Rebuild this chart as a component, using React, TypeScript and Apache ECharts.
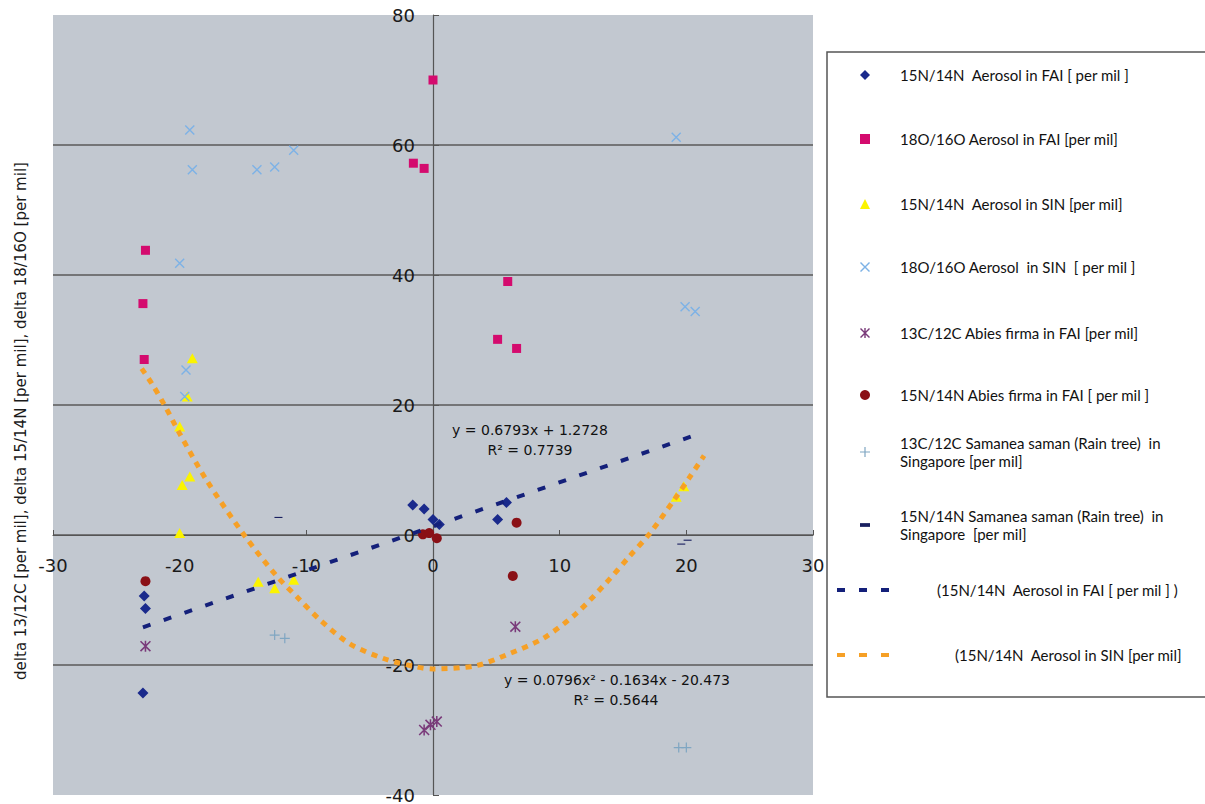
import React, { useEffect, useRef } from "react";
import * as echarts from "echarts";

// ---------- data ----------
const faiN15X = [-22.8, -22.7, -22.9, -1.6, -0.7, 0.0, 0.5, 5.1, 5.8];
const faiN15Y = [-9.4, -11.3, -24.3, 4.6, 4.0, 2.4, 1.6, 2.4, 5.0];

const faiO18X = [0.0, -1.55, -0.7, -22.7, -22.9, -22.8, 5.9, 5.1, 6.6];
const faiO18Y = [70.0, 57.2, 56.4, 43.8, 35.6, 27.0, 39.0, 30.1, 28.7];

const sinN15X = [-19.0, -19.4, -20.0, -19.2, -19.8, -20.0, -13.8, -12.5, -11.0, 19.2, 19.8];
const sinN15Y = [27.2, 21.3, 16.7, 9.0, 7.7, 0.3, -7.2, -8.2, -6.9, 5.9, 7.5];

const sinO18X = [-19.2, -19.0, -13.9, -12.5, -11.0, -20.0, -19.5, -19.6, 19.2, 19.9, 20.7];
const sinO18Y = [62.3, 56.2, 56.2, 56.6, 59.2, 41.8, 25.4, 21.3, 61.2, 35.1, 34.4];

const abiesC13X = [-22.7, -0.7, -0.2, 0.3, 6.5];
const abiesC13Y = [-17.1, -30.0, -29.2, -28.7, -14.1];

const abiesN15X = [-22.7, -0.8, -0.3, 0.3, 6.6, 6.3];
const abiesN15Y = [-7.1, 0.1, 0.3, -0.5, 1.9, -6.3];

const samaneaC13X = [-12.5, -11.7, 19.4, 20.0];
const samaneaC13Y = [-15.4, -15.9, -32.7, -32.7];

const samaneaN15X = [-12.2, 19.6, 20.1];
const samaneaN15Y = [2.7, -1.4, -0.8];

// trend lines as drawn in the picture
const linTrendX = [-22.9, 20.6];
const linTrendY = [-14.2, 15.3];

const polyTrendX = [-23.0, -22.2, -21.2, -20.0, -17.9, -14.8, -12.3, -10.5, -8.9, -6.6, -3.9, -1.3, 0.0, 3.4, 6.1, 8.7, 11.3, 13.7, 15.5, 17.1, 19.0, 20.3, 21.4];
const polyTrendY = [25.6, 23.3, 20.0, 15.6, 8.5, -0.3, -6.4, -10.0, -13.1, -16.7, -19.0, -20.3, -20.6, -20.1, -18.2, -15.9, -12.1, -7.3, -3.3, 0.2, 5.3, 9.0, 12.2];

const seriesNames = [
  "15N/14N  Aerosol in FAI [ per mil ]",
  "18O/16O Aerosol in FAI [per mil]",
  "15N/14N  Aerosol in SIN [per mil]",
  "18O/16O Aerosol  in SIN  [ per mil ]",
  "13C/12C Abies firma in FAI [per mil]",
  "15N/14N Abies firma in FAI [ per mil ]",
  "13C/12C Samanea saman (Rain tree)  in\nSingapore [per mil]",
  "15N/14N Samanea saman (Rain tree)  in\nSingapore  [per mil]",
  "(15N/14N  Aerosol in FAI [ per mil ] )",
  "(15N/14N  Aerosol in SIN [per mil]",
];

const eqLinear = ["y = 0.6793x + 1.2728", "R² = 0.7739"];
const eqPoly = ["y = 0.0796x² - 0.1634x - 20.473", "R² = 0.5644"];

const yTitle = "delta 13/12C [per mil], delta 15/14N [per mil], delta 18/16O [per mil]";

const X_MIN = -30, X_MAX = 30, X_INT = 10;
const Y_MIN = -40, Y_MAX = 80, Y_INT = 20;

// ---------- helpers ----------
const zip = (xs: number[], ys: number[]) => xs.map((x, i) => [x, ys[i]]);

const PATH_X = "path://M0,1L1,0L10,9L9,10Z M9,0L10,1L1,10L0,9Z";
const PATH_STAR = "path://M0,1L1,0L10,9L9,10Z M9,0L10,1L1,10L0,9Z M4.3,0H5.7V10H4.3Z";
const PATH_PLUS = "path://M4.4,0H5.6V10H4.4Z M0,4.4H10V5.6H0Z";
const PATH_DASH = "path://M0,0H8V3H0Z";

const FONT_AX = "DejaVu Sans";
const FONT_LEG = "Lato";

// plot layout (pixels)
const G_LEFT = 53, G_TOP = 15, G_W = 760, G_H = 780;

function buildOption() {
  const scatter = (name: string, xs: number[], ys: number[], symbol: string, size: any, color: string) => ({
    name,
    type: "scatter",
    data: zip(xs, ys),
    symbol,
    symbolSize: size,
    symbolKeepAspect: true,
    itemStyle: { color, opacity: 1 },
    z: 3,
  });

  const series: any[] = [
    scatter(seriesNames[0], faiN15X, faiN15Y, "diamond", [11, 11], "#1a2a8c"),
    scatter(seriesNames[1], faiO18X, faiO18Y, "rect", 9, "#d40b6e"),
    scatter(seriesNames[2], sinN15X, sinN15Y, "triangle", [11, 10], "#fbf400"),
    scatter(seriesNames[3], sinO18X, sinO18Y, PATH_X, 10, "#7db2e6"),
    scatter(seriesNames[4], abiesC13X, abiesC13Y, PATH_STAR, 11, "#7a3a7a"),
    scatter(seriesNames[5], abiesN15X, abiesN15Y, "circle", 10, "#8a1016"),
    scatter(seriesNames[6], samaneaC13X, samaneaC13Y, PATH_PLUS, 10, "#7fa6c2"),
    scatter(seriesNames[7], samaneaN15X, samaneaN15Y, PATH_DASH, [8, 3], "#1a2060"),
    {
      name: seriesNames[8],
      type: "line",
      data: zip(linTrendX, linTrendY),
      symbol: "none",
      lineStyle: { color: "#14207a", width: 4, type: [8, 14] },
      itemStyle: { color: "#14207a" },
      z: 4,
    },
    {
      name: seriesNames[9],
      type: "line",
      data: zip(polyTrendX, polyTrendY),
      symbol: "none",
      smooth: 0.3,
      lineStyle: { color: "#f6a026", width: 5, type: [6, 6] },
      itemStyle: { color: "#f6a026" },
      z: 5,
    },
  ];

  // legend rows (layout)
  const rows = [
    { cy: 75 }, { cy: 139 }, { cy: 204 }, { cy: 267 }, { cy: 333 }, { cy: 395 },
    { cy: 452, two: true }, { cy: 525, two: true },
    { cy: 590, line: true, textX: 935 }, { cy: 655, line: true, textX: 953 },
  ];
  const legends = rows.map((r: any, i) => {
    const base: any = {
      data: [seriesNames[i]],
      orient: "horizontal",
      padding: 0,
      selectedMode: false,
      z: 6,
      textStyle: {
        fontFamily: FONT_LEG,
        fontSize: 15,
        color: "#111111",
        lineHeight: 18,
      },
    };
    if (r.line) {
      base.left = 835;
      base.top = r.cy - 9;
      base.itemWidth = 54;
      base.itemHeight = 4;
      base.lineStyle = { type: [8, 14], width: 4 };
      base.textStyle.padding = [0, 0, 0, r.textX - 894];
    } else {
      base.left = 860;
      base.itemWidth = 10;
      base.itemHeight = 10;
      if (r.two) {
        base.top = r.cy - 27;
        base.textStyle.padding = [18, 0, 0, 25];
      } else {
        base.top = r.cy - 9;
        base.textStyle.padding = [0, 0, 0, 25];
      }
    }
    return base;
  });

  const eqStyle = (txt: string, x: number, y: number) => ({
    type: "text",
    x,
    y,
    z: 7,
    style: {
      text: txt,
      fill: "#111111",
      font: `14px "${FONT_AX}"`,
      align: "center",
      verticalAlign: "middle",
    },
  });

  // offsets that place the axes at the zero crossings
  const xZeroFromBottom = (G_H * (0 - Y_MIN)) / (Y_MAX - Y_MIN);
  const yZeroFromLeft = (G_W * (0 - X_MIN)) / (X_MAX - X_MIN);

  return {
    animation: false,
    backgroundColor: "#ffffff",
    grid: {
      left: G_LEFT,
      top: G_TOP,
      width: G_W,
      height: G_H,
      show: true,
      backgroundColor: "#c2c8d0",
      borderWidth: 0,
      containLabel: false,
      outerBoundsMode: "none",
    },
    xAxis: {
      type: "value",
      position: "bottom",
      offset: -xZeroFromBottom,
      min: X_MIN,
      max: X_MAX,
      interval: X_INT,
      axisLine: { onZero: false, lineStyle: { color: "#555", width: 1.2 } },
      axisTick: { show: true, inside: true, length: 5, lineStyle: { color: "#555" } },
      axisLabel: { fontFamily: FONT_AX, fontSize: 18, color: "#1a1a1a", margin: 21, hideOverlap: false },
      splitLine: { show: false },
    },
    yAxis: {
      type: "value",
      position: "left",
      offset: -yZeroFromLeft,
      min: Y_MIN,
      max: Y_MAX,
      interval: Y_INT,
      axisLine: { onZero: false, lineStyle: { color: "#555", width: 1.2 } },
      axisTick: { show: true, inside: true, length: 6, lineStyle: { color: "#555" } },
      axisLabel: { fontFamily: FONT_AX, fontSize: 18, color: "#1a1a1a", margin: 18, hideOverlap: false },
      splitLine: {
        show: true,
        showMinLine: false,
        showMaxLine: false,
        lineStyle: { color: "#5a5a5a", width: 1.5 },
      },
    },
    legend: legends,
    graphic: [
      {
        type: "rect",
        z: 3,
        shape: { x: 827, y: 52, width: 600, height: 645 },
        style: { fill: "#ffffff" },
      },
      {
        type: "polyline",
        z: 3,
        shape: { points: [[1400, 52], [827, 52], [827, 697], [1400, 697]] },
        style: { fill: "none", stroke: "#555555", lineWidth: 1.5 },
      },
      {
        type: "text",
        x: 21,
        y: 421,
        rotation: Math.PI / 2,
        z: 7,
        style: {
          text: yTitle,
          fill: "#1a1a1a",
          font: `15px "${FONT_AX}"`,
          align: "center",
          verticalAlign: "middle",
        },
      },
      eqStyle(eqLinear[0], 530, 430),
      eqStyle(eqLinear[1], 530, 450),
      eqStyle(eqPoly[0], 617, 680),
      eqStyle(eqPoly[1], 616, 700),
    ],
    series,
  };
}

export default function App() {
  const ref = useRef<HTMLDivElement>(null);
  useEffect(() => {
    if (!ref.current) return;
    const chart = echarts.init(ref.current, null, { renderer: "svg" });
    chart.setOption(buildOption() as any);
    return () => chart.dispose();
  }, []);
  return (
    <div
      ref={ref}
      style={{ position: "absolute", left: 0, top: 0, width: 1205, height: 804, background: "#fff" }}
    />
  );
}
